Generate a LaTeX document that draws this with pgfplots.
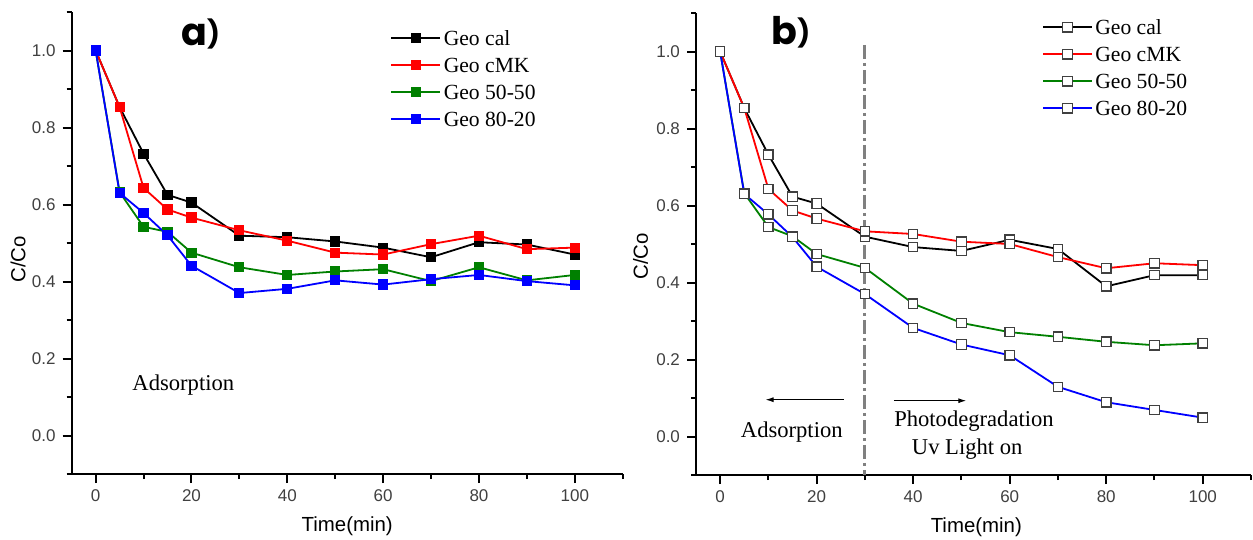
\documentclass[border=0pt]{standalone}
\usepackage{fontspec}
\setmainfont{Liberation Sans}
\newfontfamily\tnr{Liberation Serif}
\newfontfamily\pop{Poppins}
\usepackage{pgfplots}
\pgfplotsset{compat=1.18}
\usepackage{pgfplotstable}
\usetikzlibrary{arrows.meta}

% adsorption only
\pgfplotstableread{
t    cal    cmk    g5050  g8020
0    1.000  1.000  1.000  1.000
5    0.853  0.853  0.632  0.630
10   0.732  0.643  0.542  0.578
15   0.625  0.587  0.529  0.520
20   0.605  0.566  0.475  0.441
30   0.519  0.533  0.437  0.370
40   0.515  0.506  0.417  0.381
50   0.504  0.475  0.426  0.403
60   0.488  0.470  0.432  0.392
70   0.463  0.497  0.401  0.406
80   0.502  0.519  0.437  0.417
90   0.496  0.484  0.403  0.401
100  0.470  0.488  0.417  0.390
}\dataA

% adsorption, then UV light on from 30 min
\pgfplotstableread{
t    cal    cmk    g5050  g8020
0    1.000  1.000  1.000  1.000
5    0.853  0.853  0.632  0.630
10   0.732  0.643  0.544  0.577
15   0.623  0.587  0.520  0.518
20   0.605  0.566  0.474  0.441
30   0.519  0.533  0.438  0.370
40   0.492  0.526  0.345  0.282
50   0.482  0.506  0.295  0.239
60   0.511  0.500  0.271  0.211
70   0.487  0.466  0.259  0.129
80   0.390  0.437  0.246  0.089
90   0.419  0.450  0.237  0.069
100  0.419  0.445  0.242  0.049
}\dataB

\definecolor{ogreen}{RGB}{0,128,0}
\newcommand\panel[1]{{\pop\bfseries\fontsize{19}{22}\selectfont #1}\raisebox{1pt}{\pop\bfseries\fontsize{13.5}{16}\selectfont)}}

\pgfplotsset{
  geo/.style={
    scale only axis, height=231pt,
    xmin=-5, xmax=110, ymin=-0.1, ymax=1.1,
    axis x line=bottom, axis y line=left,
    axis line style={-, line width=1pt},
    xtick={0,20,40,60,80,100}, minor xtick={10,30,50,70,90,110},
    ytick={0,0.2,0.4,0.6,0.8,1.0}, minor ytick={-0.1,0.1,0.3,0.5,0.7,0.9,1.1},
    tick align=outside, major tick length=4.5pt, minor tick length=2.5pt,
    tick style={black, line width=1pt},
    tick label style={font=\fontsize{8.5}{10}\selectfont, text=black!75},
    /pgf/number format/assume math mode=true,
    yticklabel style={/pgf/number format/.cd, fixed, fixed zerofill, precision=1},
    xlabel={Time(min)}, ylabel={C/Co},
    label style={font=\fontsize{10.2}{12}\selectfont},
    clip=false,
    legend cell align=left,
    legend style={draw=none, fill=none, anchor=north west, inner sep=0pt,
      font=\tnr\fontsize{10.8}{12}\selectfont,
      nodes={inner xsep=1.2pt, inner ysep=0pt, text height=10.25pt, text depth=3.25pt}},
    legend image code/.code={\draw[mark repeat=2,mark phase=2,##1] plot coordinates {(0pt,0pt) (12.25pt,0pt) (24.5pt,0pt)};},
  },
  fillA/.style={line width=0.9pt, mark=square*, mark size=2.1pt, mark options={solid}},
  openB/.style={line width=0.9pt, mark=square*, mark size=2.35pt,
    mark options={solid, fill=white, draw=black!75, line width=0.6pt}},
}

\begin{document}
\begin{tikzpicture}
\path[use as bounding box] (0,0) rectangle (626.5pt,-270pt);

% ---- a) ----
\begin{axis}[geo, width=275.5pt,
    at={(35.85pt,-237pt)}, anchor=south west,
    xlabel style={at={(axis description cs:0.5,-0.1136)}, anchor=center},
    ylabel style={at={(axis description cs:-0.0975,0.465)}, anchor=center},
    legend style={at={(axis description cs:0.578,0.973)}},
]
\addplot[fillA, black] table[x=t, y=cal] {\dataA};
\addplot[fillA, red] table[x=t, y=cmk] {\dataA};
\addplot[fillA, ogreen] table[x=t, y=g5050] {\dataA};
\addplot[fillA, blue] table[x=t, y=g8020] {\dataA};
\legend{Geo cal, Geo cMK, Geo 50-50, Geo 80-20}
\node[anchor=base west, inner sep=0pt] at (axis cs:17.8,1.012) {\panel{a}};
\node[font=\tnr\fontsize{11.3}{13}\selectfont] at (axis cs:18.3,0.131) {Adsorption};
\end{axis}

% ---- b) ----
\begin{axis}[geo, width=277.5pt,
    at={(348pt,-237.5pt)}, anchor=south west,
    xlabel style={at={(axis description cs:0.505,-0.1136)}, anchor=center},
    ylabel style={at={(axis description cs:-0.1,0.473)}, anchor=center},
    legend style={at={(axis description cs:0.623,0.999)}},
]
\addplot[black!50, line width=1.5pt, dash pattern=on 7pt off 2pt on 1.5pt off 2pt, forget plot]
  coordinates {(30,1.017) (30,-0.1)};
\addplot[openB, black] table[x=t, y=cal] {\dataB};
\addplot[openB, red] table[x=t, y=cmk] {\dataB};
\addplot[openB, ogreen] table[x=t, y=g5050] {\dataB};
\addplot[openB, blue] table[x=t, y=g8020] {\dataB};
\legend{Geo cal, Geo cMK, Geo 50-50, Geo 80-20}
\node[anchor=base west, inner sep=0pt] at (axis cs:10.6,1.017) {\panel{b}};
\draw[line width=0.5pt, -{Latex[length=4pt, width=2.5pt]}] (axis cs:25.6,0.0956) -- (axis cs:9.4,0.0956);
\draw[line width=0.5pt, -{Latex[length=4pt, width=2.5pt]}] (axis cs:36,0.093) -- (axis cs:51,0.093);
\node[font=\tnr\fontsize{11.3}{13}\selectfont] at (axis cs:14.85,0.012) {Adsorption};
\node[font=\tnr\fontsize{11.3}{13}\selectfont] at (axis cs:52.6,0.041) {Photodegradation};
\node[font=\tnr\fontsize{11.3}{13}\selectfont] at (axis cs:51.2,-0.032) {Uv Light on};
\end{axis}
\end{tikzpicture}
\end{document}
